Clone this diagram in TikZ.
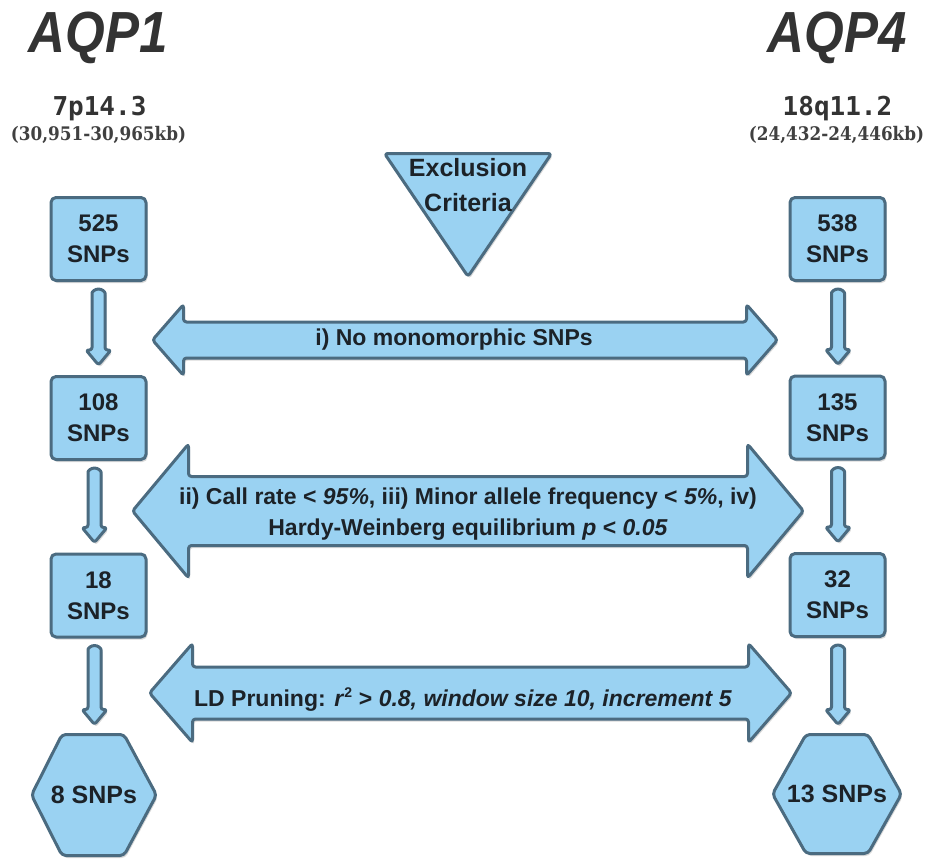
\documentclass[tikz,border=0pt]{standalone}
\usepackage{fontspec}
\setmainfont{Liberation Sans}
\newfontfamily\titlefont[FakeStretch=0.88]{Liberation Sans}
\newfontfamily\locmono{DejaVu Sans Mono}
\newfontfamily\locserif[FakeStretch=0.9]{DejaVu Serif}
\usetikzlibrary{calc,shadows}
\definecolor{fillblue}{RGB}{154,210,242}
\definecolor{edgeblue}{RGB}{75,107,128}
\definecolor{inktxt}{RGB}{28,34,40}
\definecolor{titlegray}{RGB}{51,51,51}
\definecolor{locgray}{RGB}{64,64,64}
\tikzset{
  shape style/.style={draw=edgeblue, fill=fillblue, line width=3pt, line join=round,
     drop shadow={opacity=0.3, shadow xshift=1.5pt, shadow yshift=-2.5pt}},
  snpbox/.style={shape style, rounded corners=5pt, minimum width=95pt, minimum height=83pt,
     inner sep=0pt, align=center, text=inktxt, font=\fontsize{24}{31}\selectfont\bfseries},
  hexlabel/.style={inner sep=0pt, outer sep=0pt, minimum width=125pt, text=inktxt,
     font=\fontsize{25}{30}\selectfont\bfseries},
  arrowlabel/.style={inner sep=0pt, align=center, text=inktxt, font=\fontsize{23}{31}\selectfont\bfseries},
  genetitle/.style={anchor=base, text=titlegray, font=\titlefont\fontsize{58}{58}\selectfont\bfseries\itshape},
  bandlabel/.style={anchor=base, text=titlegray, font=\locmono\fontsize{26}{26}\selectfont\bfseries},
  rangelabel/.style={anchor=base, text=locgray, font=\locserif\fontsize{18.7}{19}\selectfont\bfseries},
}
% block arrow between two nodes: #1 from, #2 to, #3 x offset (pt)
\newcommand\blockarr[3]{%
  \draw[shape style, rounded corners=2.5pt] let \p1=(#1.south), \p2=(#2.north) in
    (\x1+#3pt-6.5pt,\y2+25pt) -- (\x1+#3pt-6.5pt,\y1-13.5pt)
    arc[start angle=180, end angle=0, radius=6.5pt]
    -- (\x1+#3pt+6.5pt,\y2+25pt) -- (\x1+#3pt+12.5pt,\y2+25pt)
    -- (\x1+#3pt,\y2+10pt) -- (\x1+#3pt-12.5pt,\y2+25pt) -- cycle;}
% double block arrow: #1 left tip x, #2 right tip x, #3 centre y, #4 shaft half, #5 head half, #6 head length
\newcommand\dblarr[6]{%
  \draw[shape style, rounded corners=3pt] (#1,#3) -- (#1+#6,#3-#5) -- (#1+#6,#3-#4)
    -- (#2-#6,#3-#4) -- (#2-#6,#3-#5) -- (#2,#3) -- (#2-#6,#3+#5) -- (#2-#6,#3+#4)
    -- (#1+#6,#3+#4) -- (#1+#6,#3+#5) -- cycle;}
\begin{document}
\begin{tikzpicture}[x=1pt,y=-1pt]
\useasboundingbox (0,0) rectangle (932,859);
% titles
\node[genetitle] (t1) at (98,53) {AQP1};
\node[genetitle] (t4) at (837,53) {AQP4};
\node[bandlabel] (b1) at (99.5,115) {7p14.3};
\node[bandlabel] (b4) at (837.5,115) {18q11.2};
\node[rangelabel] (r1) at (98.5,140) {(30,951-30,965kb)};
\node[rangelabel] (r4) at (836.5,140) {(24,432-24,446kb)};
% exclusion criteria triangle
\draw[shape style, rounded corners=3pt] (384.5,153.5) -- (551.5,153.5) -- (468,276.5) -- cycle;
\node[arrowlabel, font=\fontsize{25}{35}\selectfont\bfseries] (excl) at (468,185.5) {Exclusion\\Criteria};
% big double arrows
\dblarr{152.5}{777.5}{340}{18}{35.5}{31}
\dblarr{132.5}{803.5}{511}{34.5}{67}{56}
\dblarr{149.5}{791.5}{693}{26}{49.5}{43}
\node[arrowlabel] (c1) at (454,340) {i) No monomorphic SNPs};
\node[arrowlabel] (c2) at (468,514.5) {ii) Call rate < \textit{95\%}, iii) Minor allele frequency < \textit{5\%}, iv)\\Hardy-Weinberg equilibrium \textit{p} < \textit{0.05}};
\node[arrowlabel] (c3) at (463,700) {LD Pruning: \textit{r}\textsuperscript{\fontsize{14}{14}\selectfont 2} > \textit{0.8, window size 10, increment 5}};
% SNP boxes
\node[snpbox] (L1) at (98.5,239) {525\\SNPs};
\node[snpbox] (L2) at (98.5,418) {108\\SNPs};
\node[snpbox] (L3) at (98.5,595.5) {18\\SNPs};
\node[snpbox] (R1) at (837.5,239) {538\\SNPs};
\node[snpbox] (R2) at (837.5,417.5) {135\\SNPs};
\node[snpbox] (R3) at (837.5,595) {32\\SNPs};
% hexagons
\draw[shape style, rounded corners=4pt] (31.5,795) -- (62,734.5) -- (124,734.5) -- (156.5,795) -- (124,855.5) -- (62,855.5) -- cycle;
\node[hexlabel, minimum height=121pt] (H1) at (94,795) {8 SNPs};
\draw[shape style, rounded corners=4pt] (772.5,794) -- (806,734.5) -- (868,734.5) -- (901.5,794) -- (868,853.5) -- (806,853.5) -- cycle;
\node[hexlabel, minimum height=119pt] (H4) at (837,794) {13 SNPs};
% connectors
\blockarr{L1}{L2}{0}
\blockarr{L2}{L3}{-4}
\blockarr{L3}{H1}{-4}
\blockarr{R1}{R2}{0.5}
\blockarr{R2}{R3}{0.5}
\blockarr{R3}{H4}{0.5}
\end{tikzpicture}
\end{document}
